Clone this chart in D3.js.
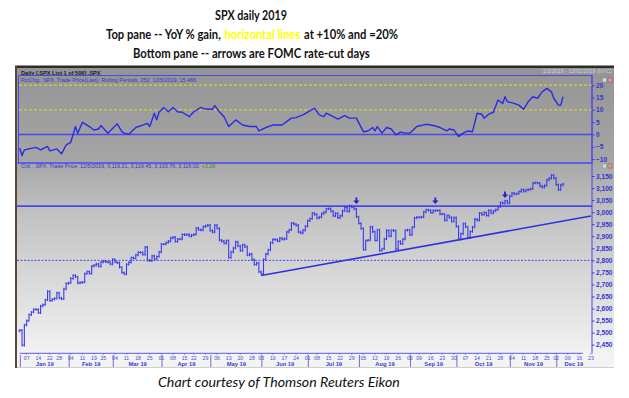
<!DOCTYPE html>
<html>
<head>
<meta charset="utf-8">
<script src="https://cdn.jsdelivr.net/npm/d3@7"></script>
<style>
  body { margin: 0; background: #fff; }
  svg { display: block; }
</style>
</head>
<body>
<svg id="chart" width="629" height="398"></svg>
<script>
// market holidays, used to build the trading-day axis
var holidays = ["2019-01-01","2019-01-21","2019-02-18","2019-04-19","2019-05-27",
                "2019-07-04","2019-09-02","2019-11-28","2019-12-25"];
var monthLabels = ["Jan 19","Feb 19","Mar 19","Apr 19","May 19","Jun 19",
                   "Jul 19","Aug 19","Sep 19","Oct 19","Nov 19","Dec 19"];

// SPX daily closes, Jan 2 .. Dec 5 2019
var prevYearClose = 2506.85;
var closes = [
  2510.03,2447.89,2531.94,2549.69,2574.41,2584.96,2596.64,2596.26,2582.61,2610.30,2616.10,2635.96,2670.71,2632.90,2638.70,2642.33,2664.76,2643.85,2640.00,2681.05,2704.10,
  2706.53,2724.87,2737.70,2731.61,2706.05,2707.88,2709.80,2744.73,2753.03,2745.73,2775.60,2779.76,2784.70,2774.88,2792.67,2796.11,2793.90,2792.38,2784.49,
  2803.69,2792.81,2789.65,2771.45,2748.93,2743.07,2783.30,2791.52,2810.92,2808.48,2822.48,2832.94,2832.57,2824.23,2854.88,2800.71,2798.36,2818.46,2805.37,2815.44,2834.40,
  2867.19,2867.24,2873.40,2879.39,2892.74,2895.77,2878.20,2888.21,2888.32,2907.41,2905.58,2907.06,2900.45,2905.03,2907.97,2933.68,2927.25,2926.17,2939.88,2943.03,2945.83,
  2923.73,2917.52,2945.64,2932.47,2884.05,2879.42,2870.72,2881.40,2811.87,2834.41,2850.96,2876.32,2859.53,2840.23,2864.36,2856.27,2822.24,2826.06,2802.39,2783.02,2788.86,2752.06,
  2744.45,2803.27,2826.15,2843.49,2873.34,2886.73,2885.72,2879.84,2891.64,2886.98,2889.67,2917.75,2926.46,2954.18,2950.46,2945.35,2917.38,2913.78,2924.92,2941.76,
  2964.33,2973.01,2995.82,2990.41,2975.95,2979.63,2993.07,2999.91,3013.77,3014.30,3004.04,2984.42,2995.11,2976.61,2985.03,3005.47,3019.56,3003.67,3025.86,3020.97,3013.18,2980.38,
  2953.56,2932.05,2844.74,2881.77,2883.98,2938.09,2918.65,2882.70,2926.32,2840.60,2847.60,2888.68,2923.65,2900.51,2924.43,2922.95,2847.11,2878.38,2869.16,2887.94,2924.58,2926.46,
  2906.27,2937.78,2976.00,2978.71,2978.43,2979.39,3000.93,3009.57,3007.39,2997.96,3005.70,3006.73,3006.79,2992.07,2991.78,2966.60,2984.87,2977.62,2961.79,2976.74,
  2940.25,2887.61,2910.63,2952.01,2938.79,2893.06,2919.40,2938.13,2970.27,2966.15,2995.68,2989.69,2997.95,2986.20,3006.72,2995.99,3004.52,3010.29,3022.55,3039.42,3036.89,3046.77,3037.56,
  3066.91,3078.27,3074.62,3076.78,3085.18,3093.08,3087.01,3091.84,3094.04,3096.63,3120.46,3122.03,3120.18,3108.46,3103.54,3110.29,3133.64,3140.52,3153.63,3140.98,
  3113.87,3093.20,3112.76,3117.43
];

// top pane: YoY % change (trading-day index, value)
var yoyDay = [0,1,2,4,7,9,12,13,16,18,20,22,24,25,27,30,32,34,35,38,42,44,45,47,50,53,55,56,58,59,
  60,62,64,66,68,70,73,75,78,80,83,84,86,88,90,93,96,99,102,103,106,109,113,117,119,122,126,127,129,131,
  132,135,137,140,142,145,148,150,152,153,154,156,158,160,162,164,166,168,171,175,177,179,181,184,185,187,189,191,193,195,
  197,199,200,202,204,206,208,209,210,213,215,217,219,221,223,225,227,229,230,232,233,234];
var yoyVal = [-5.6,-8.6,-6.3,-5.9,-5.3,-6.3,-4.9,-6.7,-5.9,-7.9,-4.3,-3.2,3.2,0.5,4.9,3.2,1.8,2.2,3.6,0.5,
  4.3,1.1,0.5,0.1,2.8,3.8,4.5,3.2,8.6,5.9,9.0,10.9,9.2,10.9,9.2,9.0,7.2,9.2,11.0,10.3,
  10.2,11.7,9.2,7.2,3.2,5.9,3.8,3.2,3.2,1.4,2.8,3.8,3.8,6.6,6.8,7.9,10.2,10.6,7.9,7.2,
  8.6,7.2,6.2,7.6,6.6,6.6,1.1,1.4,2.8,1.4,3.2,0.5,2.8,2.2,-0.2,0.9,0.5,0.5,3.2,4.1,
  3.8,3.4,2.8,1.4,2.2,1.8,-0.9,0.5,1.4,1.1,8.6,8.2,6.6,8.2,9.0,14.0,12.6,15.3,13.3,12.6,
  11.9,10.2,13.3,15.3,14.7,17.3,18.7,17.3,14.7,11.9,11.9,15.3];
var yoyTicks = [20,15,10,5,0,-5,-10];
var yoyDashed = [20,10];

var priceTicks = d3.range(2450, 3151, 50);
var resistance = 3025, support = 2800;
var trendFrom = {day: 104, price: 2737}, trendTo = {day: 246, price: 2984};
var fomcDays = ["2019-07-31","2019-09-18","2019-10-30"];
var fomcTip = [3034, 3034, 3059];

var svg = d3.select("#chart");
var fmtKey = d3.timeFormat("%Y-%m-%d");

// trading calendar
var tradeDays = d3.timeDay.range(new Date(2019,0,1), new Date(2020,0,1)).filter(function(d) {
  var w = d.getDay();
  return w !== 0 && w !== 6 && holidays.indexOf(fmtKey(d)) < 0;
});
var dayIndex = {};
tradeDays.forEach(function(d, i) { dayIndex[fmtKey(d)] = i; });

var L = 17, R = 592, frameR = 614;
var x = d3.scaleLinear().domain([0, 241]).range([19.7, 579.3]);
var yTop = d3.scaleLinear().domain([-10, 20]).range([159, 85.2]);
var yBot = d3.scaleLinear().domain([2450, 3150]).range([344.7, 176]);

var blue = "#3a3af0", lineBlue = "#4848ee";

// ---------- backgrounds ----------
var defs = svg.append("defs");
var g1 = defs.append("linearGradient").attr("id","gTop").attr("x1",0).attr("y1",0).attr("x2",0).attr("y2",1);
g1.append("stop").attr("offset",0).attr("stop-color","#949494");
g1.append("stop").attr("offset",1).attr("stop-color","#a6a6a6");
var g2 = defs.append("linearGradient").attr("id","gBot").attr("x1",0).attr("y1",0).attr("x2",0).attr("y2",1);
g2.append("stop").attr("offset",0).attr("stop-color","#a8a8a8");
g2.append("stop").attr("offset",0.3).attr("stop-color","#c4c4c4");
g2.append("stop").attr("offset",1).attr("stop-color","#f2f2f2");

svg.append("rect").attr("x",15).attr("y",68).attr("width",frameR-15).attr("height",95).attr("fill","url(#gTop)");
svg.append("rect").attr("x",15).attr("y",163).attr("width",frameR-15).attr("height",190).attr("fill","url(#gBot)");
svg.append("rect").attr("x",15).attr("y",353).attr("width",frameR-15).attr("height",15).attr("fill","#f3f3f3");
svg.append("line").attr("x1",15).attr("x2",frameR).attr("y1",367.5).attr("y2",367.5).attr("stroke","#cfcfcf");
svg.append("rect").attr("x",15).attr("y",65.5).attr("width",frameR-15).attr("height",2.5).attr("fill","#2c2c2c");
svg.append("rect").attr("x",15).attr("y",66).attr("width",2).attr("height",302).attr("fill","#5a4632");

// header texts
svg.append("text").attr("x",21).attr("y",74.5).attr("font-family","Liberation Sans, Arial")
  .attr("font-size",5.6).attr("font-weight","bold").attr("fill","#1a1a1a")
  .text("Daily [.SPX List 1 of 506] .SPX");
svg.append("text").attr("x",612).attr("y",73).attr("text-anchor","end").attr("font-family","Liberation Sans, Arial")
  .attr("font-size",5.4).attr("fill","#d4d4d4").text("1/2/2019 - 12/31/2019 (NYC)");

// ---------- top pane ----------
var topPane = svg.append("g");
topPane.append("rect").attr("x",18.5).attr("y",75.5).attr("width",R-18.5).attr("height",87.5)
  .attr("fill","none").attr("stroke",lineBlue).attr("stroke-width",1);
topPane.selectAll(".dash").data(yoyDashed).enter().append("line")
  .attr("x1",19).attr("x2",R).attr("y1",function(d){return yTop(d);}).attr("y2",function(d){return yTop(d);})
  .attr("stroke","#d6d23a").attr("stroke-width",1.2).attr("stroke-dasharray","3,2");
topPane.append("line").attr("x1",19).attr("x2",R).attr("y1",yTop(0)).attr("y2",yTop(0))
  .attr("stroke",lineBlue).attr("stroke-width",1.5);
topPane.append("text").attr("x",21).attr("y",81.5).attr("font-family","Liberation Sans, Arial")
  .attr("font-size",5.4).attr("fill","#3434d8")
  .text("PctChg, .SPX, Trade Price(Last), Rolling Periods, 252, 12/5/2019, 15.466");

var yoyLine = d3.line().x(function(d){return x(d[0]);}).y(function(d){return yTop(d[1]);});
topPane.append("path").datum(d3.zip(yoyDay, yoyVal)).attr("d", yoyLine)
  .attr("fill","none").attr("stroke","#2a2ae8").attr("stroke-width",1.4).attr("stroke-linejoin","round");

var axTop = d3.axisRight(yTop).tickValues(yoyTicks).tickSize(2.5).tickPadding(1.5);
var gAxTop = topPane.append("g").attr("transform","translate(" + R + ",0)").call(axTop);

// ---------- bottom pane ----------
var botPane = svg.append("g");
botPane.append("line").attr("x1",L).attr("x2",R).attr("y1",163).attr("y2",163).attr("stroke",lineBlue).attr("stroke-width",1.2);
botPane.append("line").attr("x1",R).attr("x2",R).attr("y1",75).attr("y2",353.5).attr("stroke",lineBlue).attr("stroke-width",1);

var hdr = botPane.append("text").attr("x",21).attr("y",167.5).attr("font-family","Liberation Sans, Arial")
  .attr("font-size",5.4).attr("fill","#3434d8");
hdr.append("tspan").text("Crd., .SPX, Trade Price, 12/5/2019, 3,119.21, 3,119.45, 3,103.76, 3,116.02, ");
hdr.append("tspan").attr("fill","#2f8a2f").text("+3.26");

botPane.append("line").attr("x1",L).attr("x2",R).attr("y1",yBot(resistance)).attr("y2",yBot(resistance))
  .attr("stroke",lineBlue).attr("stroke-width",1.6);
botPane.append("line").attr("x1",L).attr("x2",R).attr("y1",yBot(support)).attr("y2",yBot(support))
  .attr("stroke",lineBlue).attr("stroke-width",1).attr("stroke-dasharray","2,1.5");

// OHLC-style bars: open taken as previous close
var bars = botPane.selectAll(".bar").data(closes).enter().append("g").attr("class","bar");
bars.each(function(c, i) {
  var o = i === 0 ? prevYearClose : closes[i-1];
  var yo = yBot(o), yc = yBot(c);
  var y1 = Math.min(yo, yc) - 1.2, y2 = Math.max(yo, yc) + 1.2;
  var g = d3.select(this), cx = x(i);
  g.append("line").attr("x1",cx).attr("x2",cx).attr("y1",y1).attr("y2",y2).attr("stroke",blue).attr("stroke-width",1.1);
  g.append("line").attr("x1",cx-1.2).attr("x2",cx).attr("y1",yo).attr("y2",yo).attr("stroke",blue).attr("stroke-width",0.9);
  g.append("line").attr("x1",cx).attr("x2",cx+1.2).attr("y1",yc).attr("y2",yc).attr("stroke",blue).attr("stroke-width",0.9);
});

botPane.append("line").attr("x1",x(trendFrom.day)).attr("y1",yBot(trendFrom.price))
  .attr("x2",x(trendTo.day)).attr("y2",yBot(trendTo.price))
  .attr("stroke","#3030e0").attr("stroke-width",1.6);

// FOMC arrows
fomcDays.forEach(function(d, k) {
  var cx = x(dayIndex[d]), tip = yBot(fomcTip[k]);
  botPane.append("path")
    .attr("d","M" + (cx-0.9) + "," + (tip-6.5) + "h1.8v3h2.2l-3.1,3.5l-3.1,-3.5h2.2z")
    .attr("fill","#2020c8");
});

var axBot = d3.axisRight(yBot).tickValues(priceTicks).tickFormat(d3.format(",")).tickSize(2.5).tickPadding(1.5);
var gAxBot = botPane.append("g").attr("transform","translate(" + R + ",0)").call(axBot);

[gAxTop, gAxBot].forEach(function(g) {
  g.select(".domain").remove();
  g.selectAll(".tick line").attr("stroke","#3a3ae0");
  g.selectAll(".tick text").attr("fill","#3434d8").attr("font-family","Liberation Sans, Arial")
    .attr("font-size",6.6).attr("font-weight","bold");
});

// window buttons
[78, 164].forEach(function(yy) {
  svg.append("rect").attr("x",602.5).attr("y",yy).attr("width",4).attr("height",4).attr("fill","#d8d8d8").attr("stroke","#8a8a8a").attr("stroke-width",0.5);
  svg.append("rect").attr("x",608).attr("y",yy).attr("width",4).attr("height",4).attr("fill","#d9a0a0").attr("stroke","#a04040").attr("stroke-width",0.5);
});

// ---------- date axis ----------
var axisEndDay = 246;
var gx = svg.append("g");
gx.append("line").attr("x1",x(0)).attr("x2",x(axisEndDay) - 8).attr("y1",353.3).attr("y2",353.3)
  .attr("stroke","#5a5ae8").attr("stroke-width",1);

var weekStarts = tradeDays.map(function(d, i){ return i; }).filter(function(i) {
  return i > 0 && i <= axisEndDay && +d3.timeMonday.floor(tradeDays[i]) !== +d3.timeMonday.floor(tradeDays[i-1]);
});
gx.selectAll(".wt").data(weekStarts).enter().append("line")
  .attr("x1",function(i){return x(i);}).attr("x2",function(i){return x(i);})
  .attr("y1",353.3).attr("y2",355).attr("stroke","#5a5ae8").attr("stroke-width",0.6);
gx.selectAll(".wl").data(weekStarts).enter().append("text")
  .attr("x",function(i){return x(i);}).attr("y",359.6).attr("text-anchor","middle")
  .attr("font-family","Liberation Sans, Arial").attr("font-size",5.2).attr("fill","#4a4ad8")
  .text(function(i){ return d3.timeFormat("%d")(tradeDays[i]); });

var monthStarts = d3.range(12).map(function(m) {
  return tradeDays.findIndex(function(d){ return d.getMonth() === m; });
});
var sepX = monthStarts.map(function(i){ return x(i) + 0.7; });
sepX.push(x(axisEndDay));
gx.selectAll(".ms").data(monthStarts).enter().append("line")
  .attr("x1",function(i,k){return sepX[k];}).attr("x2",function(i,k){return sepX[k];})
  .attr("y1",355).attr("y2",367).attr("stroke","#4a4ad8").attr("stroke-width",0.8);
gx.selectAll(".ml").data(monthLabels).enter().append("text")
  .attr("x",function(d,k){return (sepX[k] + sepX[k+1]) / 2;}).attr("y",366)
  .attr("text-anchor","middle").attr("font-family","Liberation Sans, Arial")
  .attr("font-size",5.8).attr("font-weight","bold").attr("fill","#3a3ad0")
  .text(function(d){return d;});

// ---------- titles ----------
// each line is squeezed horizontally to the width it has in the reference
var tf = "Lato, 'Open Sans', sans-serif";
function titleLine(xc, y, w, parts, italic) {
  var els = parts.map(function(p) {
    return svg.append("text").attr("x", 0).attr("y", 0).attr("font-family", tf)
      .attr("font-weight", italic ? "normal" : "bold").attr("font-style", italic ? "italic" : "normal")
      .attr("font-size", 14).attr("fill", p[1] || "#111").text(p[0]);
  });
  var widths = els.map(function(e) { return e.node().getComputedTextLength(); });
  var gap = 14 * 0.26, gaps = gap * (parts.length - 1);
  var k = (w - gaps) / d3.sum(widths), cur = xc - w / 2;
  els.forEach(function(e, i) {
    e.attr("transform", "translate(" + cur + "," + y + ") scale(" + k + ",1)");
    cur += widths[i] * k + gap;
  });
}
titleLine(251, 20, 72, [["SPX daily 2019"]]);
titleLine(252, 39, 292, [["Top pane -- YoY % gain,"], ["horizontal lines", "#ffff00"], ["at +10% and =20%"]]);
titleLine(251.5, 58, 237, [["Bottom pane -- arrows are FOMC rate-cut days"]]);
titleLine(279, 387, 242, [["Chart courtesy of Thomson Reuters Eikon"]], true);
</script>
</body>
</html>
